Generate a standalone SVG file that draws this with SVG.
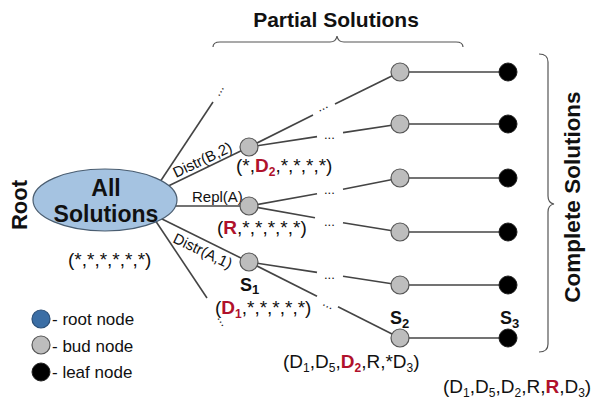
<svg xmlns="http://www.w3.org/2000/svg" width="600" height="403" viewBox="0 0 600 403">
<style>
text{font-family:"Liberation Sans",Arial,sans-serif;fill:#111}
.b{font-weight:bold}
.edge{stroke:#444;stroke-width:1.6;fill:none}
.brace{stroke:#555;stroke-width:1.2;fill:none}
.bud{fill:#bdbdbd;stroke:#555;stroke-width:1.2}
.leaf{fill:#000;stroke:#222;stroke-width:1}
.tup{font-size:19px}
.lbl{font-size:15px}
.dots{font-size:13px}
.red{fill:#b0112b;font-weight:bold}
.sub{font-size:12px}
.S{font-size:18px;font-weight:bold}
.Ssub{font-size:13px;font-weight:bold}
.leg{font-size:17px}
</style>

<!-- headings and braces -->
<text class="b" x="336" y="27" font-size="21" text-anchor="middle">Partial Solutions</text>
<path class="brace" d="M213,47 Q213,42 220,42 L330,42 Q336,42 337,36 Q338,42 344,42 L456,42 Q463,42 463,47"/>
<path class="brace" d="M539,54 Q548,54 548,62 L548,196 Q548,203 554,204 Q548,205 548,212 L548,344 Q548,352 539,352"/>
<text class="b" font-size="22.5" text-anchor="middle" transform="translate(580,197) rotate(-90)">Complete Solutions</text>
<text class="b" font-size="22" text-anchor="middle" transform="translate(27,205) rotate(-90)">Root</text>

<!-- connectors -->
<g id="connectors">
  <line class="edge" x1="150" y1="197" x2="213" y2="102"/>
  <line class="edge" x1="160" y1="190" x2="249" y2="147"/>
  <line class="edge" x1="170" y1="206" x2="249" y2="206"/>
  <line class="edge" x1="160" y1="218" x2="249" y2="262"/>
  <line class="edge" x1="147" y1="208" x2="207" y2="298"/>

  <line class="edge" x1="249" y1="147" x2="313" y2="115"/>
  <line class="edge" x1="335" y1="104" x2="400" y2="72"/>
  <line class="edge" x1="249" y1="147" x2="317" y2="136.6"/>
  <line class="edge" x1="343" y1="132.6" x2="400" y2="124"/>
  <line class="edge" x1="249" y1="206" x2="317" y2="193.8"/>
  <line class="edge" x1="343" y1="189.2" x2="400" y2="178"/>
  <line class="edge" x1="249" y1="206" x2="315" y2="217.8"/>
  <line class="edge" x1="343" y1="222.8" x2="400" y2="232"/>
  <line class="edge" x1="249" y1="262" x2="317" y2="272.4"/>
  <line class="edge" x1="343" y1="276.3" x2="400" y2="285"/>
  <line class="edge" x1="249" y1="262" x2="317" y2="296.2"/>
  <line class="edge" x1="338" y1="306.8" x2="400" y2="338"/>

  <line class="edge" x1="400" y1="72" x2="508" y2="72"/>
  <line class="edge" x1="400" y1="124" x2="508" y2="124"/>
  <line class="edge" x1="400" y1="178" x2="508" y2="178"/>
  <line class="edge" x1="400" y1="232" x2="508" y2="232"/>
  <line class="edge" x1="400" y1="285" x2="508" y2="285"/>
  <line class="edge" x1="400" y1="338" x2="508" y2="338"/>

  <text class="dots" transform="translate(219,97) rotate(-60)">...</text>
  <text class="dots" transform="translate(217,318) rotate(58)">...</text>
  <text class="dots" transform="translate(319,112) rotate(-26)">...</text>
  <text class="dots" transform="translate(324,139)">...</text>
  <text class="dots" transform="translate(324,194)">...</text>
  <text class="dots" transform="translate(324,226)">...</text>
  <text class="dots" transform="translate(324,279)">...</text>
  <text class="dots" transform="translate(322,305) rotate(27)">...</text>

  <text class="lbl" transform="translate(176,178) rotate(-25.4)">Distr(B,2)</text>
  <text class="lbl" x="192" y="202">Repl(A)</text>
  <text class="lbl" transform="translate(172,242) rotate(25.5)">Distr(A,1)</text>
</g>

<!-- root -->
<g id="root">
  <ellipse cx="105" cy="200" rx="72" ry="31" fill="#a5c3e1" stroke="#4a5d70" stroke-width="1.2"/>
  <text class="b" x="106" y="196" font-size="23" text-anchor="middle">All</text>
  <text class="b" x="106" y="222" font-size="23" text-anchor="middle">Solutions</text>
  <text class="tup" x="68" y="266">(*,*,*,*,*,*)</text>
</g>

<!-- first level buds -->
<g id="bud-b2">
  <circle class="bud" cx="249" cy="147" r="9"/>
  <text class="tup" x="236" y="172">(*,<tspan class="red">D</tspan><tspan class="red sub" dy="4">2</tspan><tspan dy="-4">,*,*,*,*)</tspan></text>
</g>
<g id="bud-repl">
  <circle class="bud" cx="249" cy="206" r="9"/>
  <text class="tup" x="217" y="234">(<tspan class="red">R</tspan>,*,*,*,*,*)</text>
</g>
<g id="bud-s1">
  <circle class="bud" cx="249" cy="262" r="9"/>
  <text class="S" x="240" y="291">S<tspan class="Ssub" dy="3">1</tspan></text>
  <text class="tup" x="215" y="314">(<tspan class="red">D</tspan><tspan class="red sub" dy="4">1</tspan><tspan dy="-4">,*,*,*,*,*)</tspan></text>
</g>

<!-- second column buds -->
<g id="bud-r1"><circle class="bud" cx="400" cy="72" r="9"/></g>
<g id="bud-r2"><circle class="bud" cx="400" cy="124" r="9"/></g>
<g id="bud-r3"><circle class="bud" cx="400" cy="178" r="9"/></g>
<g id="bud-r4"><circle class="bud" cx="400" cy="232" r="9"/></g>
<g id="bud-r5"><circle class="bud" cx="400" cy="285" r="9"/></g>
<g id="bud-s2">
  <circle class="bud" cx="400" cy="338" r="9"/>
  <text class="S" x="390" y="324">S<tspan class="Ssub" dy="4">2</tspan></text>
  <text class="tup" x="283" y="368">(D<tspan class="sub" dy="4">1</tspan><tspan dy="-4">,D</tspan><tspan class="sub" dy="4">5</tspan><tspan dy="-4">,</tspan><tspan class="red">D</tspan><tspan class="red sub" dy="4">2</tspan><tspan dy="-4">,R,*D</tspan><tspan class="sub" dy="4">3</tspan><tspan dy="-4">)</tspan></text>
</g>

<!-- leaves -->
<g id="leaf-r1"><circle class="leaf" cx="508" cy="72" r="9"/></g>
<g id="leaf-r2"><circle class="leaf" cx="508" cy="124" r="9"/></g>
<g id="leaf-r3"><circle class="leaf" cx="508" cy="178" r="9"/></g>
<g id="leaf-r4"><circle class="leaf" cx="508" cy="232" r="9"/></g>
<g id="leaf-r5"><circle class="leaf" cx="508" cy="285" r="9"/></g>
<g id="leaf-s3">
  <circle class="leaf" cx="508" cy="338" r="9"/>
  <text class="S" x="500" y="324">S<tspan class="Ssub" dy="4">3</tspan></text>
  <text class="tup" x="443" y="393">(D<tspan class="sub" dy="4">1</tspan><tspan dy="-4">,D</tspan><tspan class="sub" dy="4">5</tspan><tspan dy="-4">,D</tspan><tspan class="sub" dy="4">2</tspan><tspan dy="-4">,R,</tspan><tspan class="red">R</tspan>,D<tspan class="sub" dy="4">3</tspan><tspan dy="-4">)</tspan></text>
</g>

<!-- legend -->
<g id="legend">
  <circle cx="41" cy="319" r="9" fill="#3b6ea5" stroke="#2a4f78" stroke-width="1.2"/>
  <text class="leg" x="52" y="325">- root node</text>
  <circle class="bud" cx="41" cy="345" r="9"/>
  <text class="leg" x="52" y="352">- bud node</text>
  <circle class="leaf" cx="41" cy="372" r="9"/>
  <text class="leg" x="52" y="378">- leaf node</text>
</g>
</svg>
